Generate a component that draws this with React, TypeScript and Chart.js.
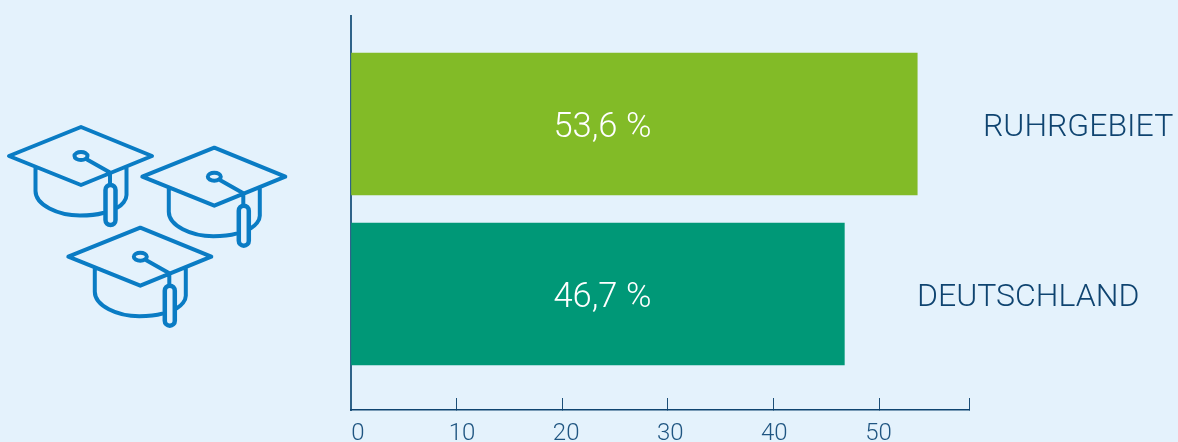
import React, { useEffect, useRef } from "react";
import { Chart, registerables } from "chart.js";

Chart.register(...registerables);

const categories = ["RUHRGEBIET", "DEUTSCHLAND"];
const values = [53.6, 46.7];
const barColors = ["#82BB27", "#009877"];
const valueLabels = ["53,6 %", "46,7 %"];
const categoryLabelLeft = [983, 917];
const capOffsets = [[0, 0], [133.3, 20.7], [59.3, 100.7]];

const BG = "#E4F2FC";
const INK = "#0F4470";
const ICON = "#0A7CC4";
const FONT = "Roboto";

const iconPlugin = {
  id: "capIcons",
  beforeDatasetsDraw(chart: any) {
    const c = chart.ctx as CanvasRenderingContext2D;
    c.save();
    c.strokeStyle = ICON;
    c.lineWidth = 4;
    c.lineJoin = "round";
    c.lineCap = "round";
    for (const [dx, dy] of capOffsets) {
      c.save();
      c.translate(dx, dy);
      c.beginPath();
      c.moveTo(9, 156); c.lineTo(81, 127); c.lineTo(152, 156); c.lineTo(81, 185); c.closePath();
      c.moveTo(87.5, 156);
      c.ellipse(81, 156, 6.5, 4, 0, 0, Math.PI * 2);
      c.moveTo(87, 159.5); c.lineTo(110, 172.5); c.lineTo(110, 184);
      c.moveTo(35.5, 167); c.lineTo(35.5, 191);
      c.bezierCurveTo(35.5, 205, 58, 215.5, 80, 215.5);
      c.bezierCurveTo(90, 215.5, 96, 215, 103, 213);
      c.moveTo(126.5, 168); c.lineTo(126.5, 195);
      c.bezierCurveTo(126.5, 200, 122, 205, 117.5, 207.5);
      c.stroke();
      c.lineWidth = 4.5;
      c.beginPath();
      c.roundRect(105.5, 185, 10, 40, 5);
      c.stroke();
      c.lineWidth = 4;
      c.restore();
    }
    c.restore();
  },
};

const textPlugin = {
  id: "barTexts",
  afterDatasetsDraw(chart: any) {
    const c = chart.ctx as CanvasRenderingContext2D;
    const meta = chart.getDatasetMeta(0);
    const xs = chart.scales.x;
    c.save();
    c.textBaseline = "middle";
    meta.data.forEach((bar: any, i: number) => {
      c.font = `300 34.5px ${FONT}`;
      c.fillStyle = "#FFFFFF";
      c.textAlign = "center";
      c.fillText(valueLabels[i], xs.getPixelForValue(23.8), bar.y + 4);
      c.font = `300 32px ${FONT}`;
      c.fillStyle = INK;
      c.textAlign = "left";
      c.fillText(categories[i], categoryLabelLeft[i], bar.y + 4);
    });
    c.restore();
  },
};

export default function App() {
  const ref = useRef<HTMLCanvasElement>(null);
  useEffect(() => {
    document.body.style.margin = "0";
    document.body.style.background = BG;
    const chart = new Chart(ref.current!, {
      type: "bar",
      data: {
        datasets: [
          {
            data: values.map((v, i) => ({ x: v, y: i })),
            backgroundColor: barColors,
            borderWidth: 0,
            barThickness: 142,
          },
        ],
      },
      plugins: [iconPlugin, textPlugin],
      options: {
        indexAxis: "y",
        animation: false,
        responsive: false,
        maintainAspectRatio: false,
        layout: { padding: { left: 351, right: 209, top: 16, bottom: 0 } },
        plugins: { legend: { display: false }, tooltip: { enabled: false } },
        scales: {
          y: {
            type: "linear",
            reverse: true,
            offset: false,
            min: -0.635,
            max: 1.682,
            ticks: { display: false },
            grid: { display: false },
            border: { display: true, color: "#2F6389", width: 2 },
            afterFit: (s: any) => { s.width = 0; },
          },
          x: {
            type: "linear",
            position: "bottom",
            min: 0,
            max: 58.5,
            weight: 0,
            ticks: { display: false, stepSize: 10 },
            grid: {
              drawOnChartArea: false,
              drawTicks: true,
              tickLength: -12,
              tickColor: "#1C4F78",
              tickWidth: 1,
            },
            border: { display: true, color: "#0F4470", width: 1.5 },
            afterFit: (s: any) => { s.height = 0; },
          },
          // label row: its ticks sit a little off the x axis marks, as in the picture
          x2: {
            type: "linear",
            position: "bottom",
            weight: 1,
            min: -0.67,
            max: 58.7,
            ticks: {
              stepSize: 10,
              includeBounds: false,
              maxRotation: 0,
              color: "#1F5581",
              padding: 2,
              font: { family: FONT, size: 24, weight: "300" },
            },
            grid: { display: false },
            border: { display: false },
            afterFit: (s: any) => { s.height = 32; },
          },
        },
      },
    } as any);
    return () => chart.destroy();
  }, []);
  return (
    <div style={{ position: "absolute", left: 0, top: 0, width: 1178, height: 442, background: BG }}>
      <canvas ref={ref} width={1178} height={442} style={{ display: "block" }} />
    </div>
  );
}
